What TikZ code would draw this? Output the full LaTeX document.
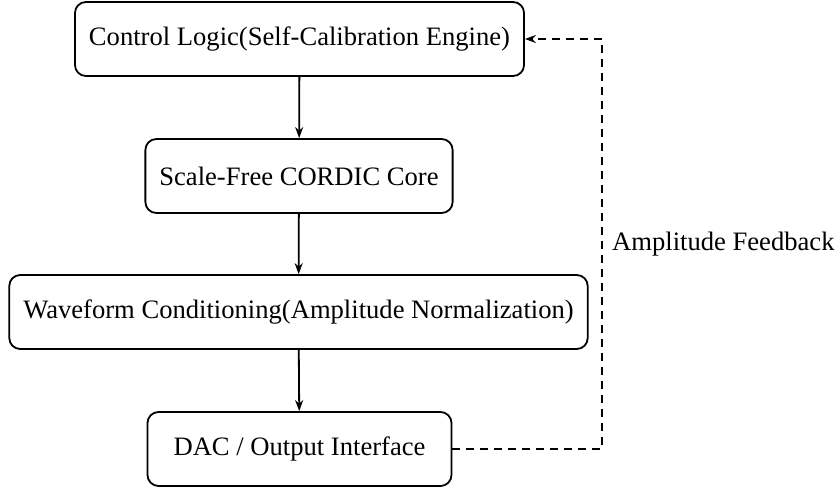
\documentclass[tikz,border=0pt]{standalone}
\usepackage{fontspec}
\setmainfont{Liberation Serif}
\usetikzlibrary{arrows.meta,calc}
\begin{document}
\begin{tikzpicture}[x=1pt,y=1pt,
  font=\fontsize{26.6}{32}\selectfont,
  block/.style={draw, line width=1.8pt, rounded corners=11pt, minimum height=74pt,
                minimum width=304pt, inner xsep=14pt, align=center},
  flow/.style={line width=1.8pt, -{Stealth[length=11pt,width=8pt]}},
  feedback/.style={line width=1.8pt, dash pattern=on 8pt off 6pt}]
  \useasboundingbox (0,0) rectangle (839,-487);

  % processing chain
  \node[block] (ctrl) at (299.5,-39)  {Control Logic(Self-Calibration Engine)};
  \node[block] (core) at (299,-176)   {Scale-Free CORDIC Core};
  \node[block] (cond) at (298.5,-312) {Waveform Conditioning(Amplitude Normalization)};
  \node[block] (dac)  at (299.5,-449) {DAC / Output Interface};

  \draw[flow] (ctrl) -- (core);
  \draw[flow] (core) -- (cond);
  \draw[flow] (cond) -- (dac);

  % feedback path from the output back to the control logic
  \coordinate (fbB) at (602,-449);
  \coordinate (fbT) at (602,-39);
  \draw[feedback] (dac.east) -- (fbB) -- (fbT);
  \draw[feedback, -{Stealth[length=11pt,width=8pt]}] (fbT) -- (ctrl.east);
  \node[anchor=west, inner sep=0pt] (fblabel) at ($(fbB)!0.5!(fbT)+(10,0)$) {Amplitude Feedback};
\end{tikzpicture}
\end{document}
